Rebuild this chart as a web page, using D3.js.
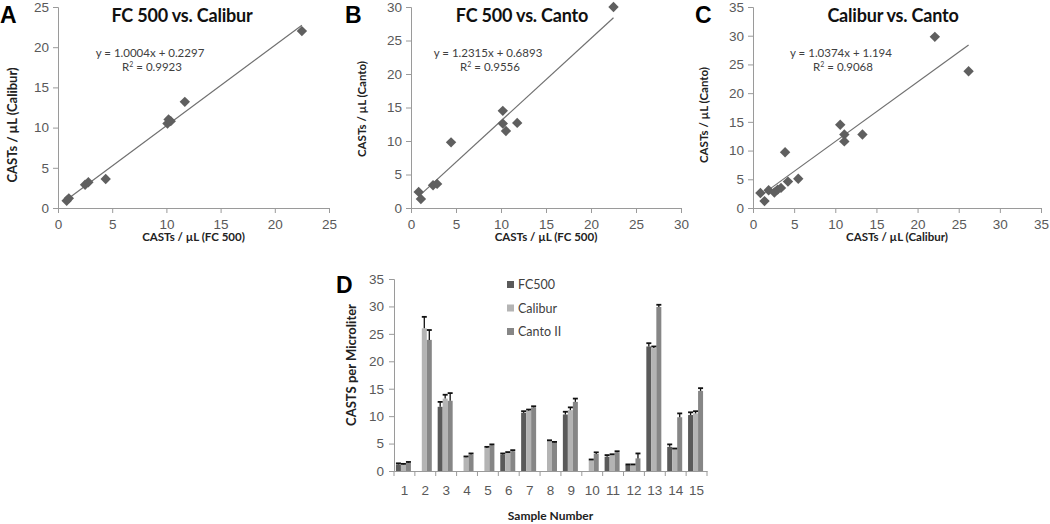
<!DOCTYPE html>
<html><head><meta charset="utf-8">
<script src="https://cdn.jsdelivr.net/npm/d3@7/dist/d3.min.js"></script>
<style>
body{margin:0;background:#fff;}
svg{font-family:Lato,"Open Sans",sans-serif;}
</style></head>
<body><svg id="c" width="1050" height="524"></svg>
<script>
// ---- Data ----
// Panel A: FC 500 (x) vs Calibur (y)
const aX = [0.8, 1.0, 2.5, 2.8, 4.4, 10.1, 10.2, 10.4, 11.7, 22.5];
const aY = [0.9, 1.2, 2.9, 3.2, 3.6, 10.5, 11.0, 10.8, 13.2, 22.0];
// Panel B: FC 500 (x) vs Canto (y)
const bX = [0.85, 1.1, 2.45, 2.9, 4.45, 10.2, 10.2, 10.55, 11.8, 22.5];
const bY = [2.4, 1.35, 3.4, 3.6, 9.8, 14.5, 12.6, 11.5, 12.7, 30.0];
// Panel C: Calibur (x) vs Canto (y)
const cX = [0.9, 1.4, 1.9, 2.6, 3.0, 3.4, 3.9, 4.25, 5.5, 10.6, 11.1, 11.1, 13.3, 22.1, 26.2];
const cY = [2.6, 1.2, 3.1, 2.7, 3.2, 3.5, 9.7, 4.6, 5.1, 14.5, 12.8, 11.6, 12.8, 29.8, 23.8];
// Trendline coefficients (slope, intercept) and R²
const fits = [
  {m: 1.0004, b: 0.2297, eq: "y = 1.0004x + 0.2297", r2: "0.9923"},
  {m: 1.2315, b: 0.6893, eq: "y = 1.2315x + 0.6893", r2: "0.9556"},
  {m: 1.0374, b: 1.194,  eq: "y = 1.0374x + 1.194",  r2: "0.9068"}
];
const scatterTitles = ["FC 500 vs. Calibur", "FC 500 vs. Canto", "Calibur  vs. Canto"];
const scatterXLabels = ["CASTs / µL (FC 500)", "CASTs / µL (FC 500)", "CASTs / µL (Calibur)"];
const scatterYLabels = ["CASTs / µL (Calibur)", "CASTs / µL (Canto)", "CASTs / µL (Canto)"];
const scatterMax = [25, 30, 35];
const panelLetters = ["A", "B", "C", "D"];

// Panel D: samples
const samples = ["1","2","3","4","5","6","7","8","9","10","11","12","13","14","15"];
const seriesNames = ["FC500", "Calibur", "Canto II"];
const fc500   = [1.2, null, 11.7, null, null, 3.0, 10.6, null, 10.3, null, 2.6, 1.1, 22.7, 4.4, 10.2];
const fc500E  = [0.2, null, 0.9, null, null, 0.2, 0.3, null, 0.5, null, 0.3, 0.1, 0.6, 0.45, 0.5];
const calibur = [1.2, 26.0, 13.2, 2.5, 4.2, 3.3, 11.0, 5.5, 11.1, 2.0, 2.9, 1.1, 22.4, 4.0, 10.5];
const caliburE= [0.1, 2.1, 0.7, 0.15, 0.2, 0.15, 0.2, 0.1, 0.5, 0.1, 0.15, 0.1, 0.3, 0.1, 0.4];
const canto   = [1.5, 23.9, 12.8, 3.0, 4.7, 3.6, 11.6, 5.2, 12.6, 3.1, 3.4, 2.3, 29.9, 9.8, 14.6];
const cantoE  = [0.15, 1.8, 1.4, 0.2, 0.15, 0.2, 0.2, 0.1, 0.6, 0.3, 0.2, 0.9, 0.4, 0.7, 0.5];
const barTicks = [0, 5, 10, 15, 20, 25, 30, 35];

// ---- Drawing ----
const svg = d3.select("#c");
const axisCol = "#9a9a9a", tickTxt = "#595959", markCol = "#5f5f5f";

const scatterData = [[aX, aY], [bX, bY], [cX, cY]];
const boxes = [
  {x0: 58, x1: 329, y0: 208, y1: 7, lx: 0, ly: 23, tx: 182, yl: 17, ylc: 125, ylf: 13, ex: 150},
  {x0: 411, x1: 681, y0: 208, y1: 7, lx: 345, ly: 23, tx: 522, yl: 366, ylc: 109, ylf: 11.5, ex: 488},
  {x0: 753, x1: 1041, y0: 208, y1: 7, lx: 695, ly: 23, tx: 893, yl: 708, ylc: 115, ylf: 11.5, ex: 841}
];

function styleAxis(g) {
  g.select(".domain").attr("stroke", axisCol).attr("stroke-width", 1);
  g.selectAll(".tick line").attr("stroke", axisCol);
  g.selectAll(".tick text").attr("fill", tickTxt).style("font-size", "13.5px");
}

boxes.forEach((bx, i) => {
  const max = scatterMax[i];
  const x = d3.scaleLinear().domain([0, max]).range([bx.x0, bx.x1]);
  const y = d3.scaleLinear().domain([0, max]).range([bx.y0, bx.y1]);
  const ticks = d3.range(0, max + 1, 5);
  const gx = svg.append("g").attr("transform", `translate(0,${bx.y0})`)
    .call(d3.axisBottom(x).tickValues(ticks).tickSize(5).tickPadding(6));
  styleAxis(gx);
  const gy = svg.append("g").attr("transform", `translate(${bx.x0},0)`)
    .call(d3.axisLeft(y).tickValues(ticks).tickSize(5).tickPadding(4));
  styleAxis(gy);

  const [xs, ys] = scatterData[i];
  const f = fits[i];
  const xmin = d3.min(xs), xmax = d3.max(xs);
  svg.append("line")
    .attr("x1", x(xmin)).attr("y1", y(f.m * xmin + f.b))
    .attr("x2", x(xmax)).attr("y2", y(f.m * xmax + f.b))
    .attr("stroke", "#707070").attr("stroke-width", 1.2);

  svg.append("g").selectAll("path").data(xs.map((v, k) => [v, ys[k]])).join("path")
    .attr("transform", d => `translate(${x(d[0])},${y(d[1])})`)
    .attr("d", "M0,-5.2L5.2,0L0,5.2L-5.2,0Z")
    .attr("fill", markCol);

  // title & letters
  svg.append("text").attr("x", bx.tx).attr("y", 22).attr("text-anchor", "middle")
    .style("font-size", "18px").style("font-weight", "bold").attr("fill", "#111")
    .style("letter-spacing", "-0.2px")
    .text(scatterTitles[i]);
  svg.append("text").attr("x", bx.lx).attr("y", bx.ly)
    .style("font-family", "'Liberation Sans',Arial,sans-serif")
    .style("font-size", "23px").style("font-weight", "bold").attr("fill", "#000")
    .text(panelLetters[i]);

  // equation
  svg.append("text").attr("x", bx.ex).attr("y", 57).attr("text-anchor", "middle")
    .style("font-size", "11.5px").attr("fill", "#404040").text(f.eq);
  const r = svg.append("text").attr("x", bx.ex + 2).attr("y", 71).attr("text-anchor", "middle")
    .style("font-size", "11.5px").attr("fill", "#404040");
  r.append("tspan").text("R");
  r.append("tspan").attr("dy", -4).style("font-size", "7px").text("2");
  r.append("tspan").attr("dy", 4).text(" = " + f.r2);

  // axis labels
  svg.append("text").attr("x", (bx.x0 + bx.x1) / 2).attr("y", 241).attr("text-anchor", "middle")
    .style("font-size", "11.5px").style("font-weight", "bold").attr("fill", "#222")
    .text(scatterXLabels[i]);
  svg.append("text").attr("transform", `translate(${bx.yl},${bx.ylc}) rotate(-90)`)
    .attr("text-anchor", "middle")
    .style("font-size", bx.ylf + "px").style("font-weight", "bold").attr("fill", "#222")
    .text(scatterYLabels[i]);
});

// ---- Panel D ----
const dx0 = 394, dx1 = 707, dy0 = 471, dy1 = 279;
const xb = d3.scaleBand().domain(samples).range([dx0, dx1]).paddingInner(0).paddingOuter(0);
const xs = d3.scaleBand().domain(seriesNames).range([0, 15]);
const yb = d3.scaleLinear().domain([0, 35]).range([dy0, dy1]);
const colors = {"FC500": "#5a5a5a", "Calibur": "#b4b4b4", "Canto II": "#868686"};
const vals = {"FC500": [fc500, fc500E], "Calibur": [calibur, caliburE], "Canto II": [canto, cantoE]};

const gyD = svg.append("g").attr("transform", `translate(${dx0},0)`)
  .call(d3.axisLeft(yb).tickValues(barTicks).tickSize(5).tickPadding(5));
styleAxis(gyD);

const barRows = [];
seriesNames.forEach(s => {
  samples.forEach((c, k) => {
    const v = vals[s][0][k];
    if (v != null) barRows.push({s, c, v, e: vals[s][1][k]});
  });
});
const off = (xb.bandwidth() - 15) / 2 - 1;
svg.append("g").selectAll("rect").data(barRows).join("rect")
  .attr("x", d => xb(d.c) + off + xs(d.s))
  .attr("width", xs.bandwidth())
  .attr("y", d => yb(d.v))
  .attr("height", d => yb(0) - yb(d.v))
  .attr("fill", d => colors[d.s]);
// error bars
const eg = svg.append("g").attr("stroke", "#111").attr("stroke-width", 1.3);
barRows.forEach(d => {
  const cx = xb(d.c) + off + xs(d.s) + xs.bandwidth() / 2;
  eg.append("line").attr("x1", cx).attr("x2", cx).attr("y1", yb(d.v)).attr("y2", yb(d.v + d.e));
  eg.append("line").attr("x1", cx - 2.5).attr("x2", cx + 2.5).attr("y1", yb(d.v + d.e)).attr("y2", yb(d.v + d.e)).attr("stroke-width", 1.8);
});

// x axis for D (ticks between categories)
const gxD = svg.append("g").attr("transform", `translate(0,${dy0})`)
  .call(d3.axisBottom(xb).tickSize(0).tickPadding(14));
styleAxis(gxD);
svg.append("g").selectAll("line").data(samples.concat(["end"])).join("line")
  .attr("x1", (d, k) => dx0 + k * xb.bandwidth()).attr("x2", (d, k) => dx0 + k * xb.bandwidth())
  .attr("y1", dy0).attr("y2", dy0 + 5).attr("stroke", axisCol);

svg.append("text").attr("x", (dx0 + dx1) / 2).attr("y", 520).attr("text-anchor", "middle")
  .style("font-size", "12px").style("font-weight", "bold").attr("fill", "#222").text("Sample Number");
svg.append("text").attr("transform", `translate(356,365) rotate(-90)`)
  .attr("text-anchor", "middle").style("font-size", "13px").style("font-weight", "bold")
  .attr("fill", "#222").text("CASTS per Microliter");
svg.append("text").attr("x", 336).attr("y", 293)
  .style("font-family", "'Liberation Sans',Arial,sans-serif")
  .style("font-size", "23px").style("font-weight", "bold").text("D");

// legend
const lg = svg.append("g").attr("transform", "translate(507,285)");
seriesNames.forEach((s, k) => {
  lg.append("rect").attr("x", 0).attr("y", k * 23.5 - 4).attr("width", 7).attr("height", 7).attr("fill", colors[s]);
  lg.append("text").attr("x", 11).attr("y", k * 23.5 + 4).style("font-size", "12.5px")
    .attr("fill", "#404040").text(s);
});
</script></body></html>
